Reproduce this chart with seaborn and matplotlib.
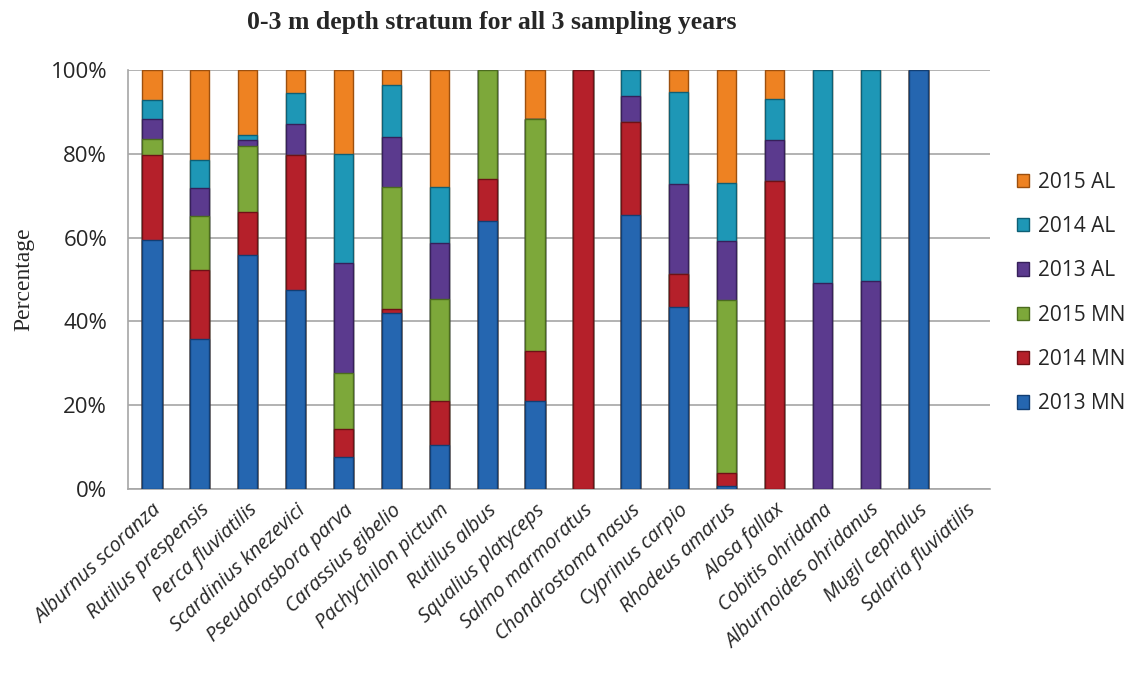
import numpy as np
import pandas as pd
import matplotlib
matplotlib.use("Agg")
import matplotlib.pyplot as plt
import seaborn as sns
from matplotlib.patches import Patch

species = ["Alburnus scoranza", "Rutilus prespensis", "Perca fluviatilis", "Scardinius knezevici",
           "Pseudorasbora parva", "Carassius gibelio", "Pachychilon pictum", "Rutilus albus",
           "Squalius platyceps", "Salmo marmoratus", "Chondrostoma nasus", "Cyprinus carpio",
           "Rhodeus amarus", "Alosa fallax", "Cobitis ohridana", "Alburnoides ohridanus",
           "Mugil cephalus", "Salaria fluviatilis"]

mn2013 = [59.4, 35.7, 55.8, 47.6, 7.7, 42.1, 10.5, 64.0, 20.9, 0, 65.3, 43.4, 0.8, 0, 0, 0, 100, 0]
mn2014 = [20.4, 16.5, 10.2, 32.0, 6.6, 0.8, 10.6, 9.9, 12.0, 100, 22.3, 8.0, 2.9, 73.5, 0, 0, 0, 0]
mn2015 = [3.7, 12.9, 15.9, 0, 13.4, 29.1, 24.2, 26.1, 55.5, 0, 0, 0, 41.5, 0, 0, 0, 0, 0]
al2013 = [4.7, 6.8, 1.4, 7.4, 26.2, 12.1, 13.4, 0, 0, 0, 6.2, 21.3, 13.9, 9.8, 49.2, 49.6, 0, 0]
al2014 = [4.6, 6.6, 1.2, 7.6, 26.1, 12.3, 13.4, 0, 0, 0, 6.2, 22.0, 14.0, 9.7, 50.8, 50.4, 0, 0]
al2015 = [7.2, 21.5, 15.5, 5.4, 20.0, 3.6, 27.9, 0, 11.6, 0, 0, 5.3, 26.9, 7.0, 0, 0, 0, 0]

series_names = ["2013 MN", "2014 MN", "2015 MN", "2013 AL", "2014 AL", "2015 AL"]
series_vals = [mn2013, mn2014, mn2015, al2013, al2014, al2015]
colors = ["#2566B0", "#B5202A", "#7DA83A", "#5B3A8E", "#1E97B6", "#EE8222"]
edges = ["#123E73", "#6E1116", "#4B6B1E", "#36205A", "#0E5F75", "#9C4F0E"]

df = pd.DataFrame({"species": species})
cum = np.zeros(len(species))
for name, vals in zip(series_names, series_vals):
    cum = cum + np.array(vals, dtype=float)
    col = cum.copy()
    col[col == 0] = np.nan
    df[name] = col

sns.set_theme(style="white")
fig = plt.figure(figsize=(11.3, 6.75), dpi=100)
ax = fig.add_axes([128/1130, 1 - 489/675, 862/1130, 419/675])

for i in range(len(series_names) - 1, -1, -1):
    name = series_names[i]
    sns.barplot(data=df, x="species", y=name, order=species, color=colors[i], ax=ax, width=0.4,
                saturation=1, edgecolor=edges[i], linewidth=1.0, zorder=3)

ax.set_ylim(0, 100)
ax.set_xlim(-0.5, len(species) - 0.5)
ax.set_yticks([0, 20, 40, 60, 80, 100])
ax.set_yticklabels(["0%", "20%", "40%", "60%", "80%", "100%"], fontsize=16,
                   fontfamily="Open Sans")
ax.yaxis.grid(True, color="#A6A6A6", linewidth=1.2, zorder=0)
ax.set_axisbelow(True)
for s in ["top", "right"]:
    ax.spines[s].set_visible(False)
for s in ["left", "bottom"]:
    ax.spines[s].set_color("#A6A6A6")
    ax.spines[s].set_linewidth(1.2)

ax.set_xticks(np.arange(len(species)))
ax.set_xticklabels(species, rotation=43, ha="right", rotation_mode="anchor",
                   fontsize=14.5, fontstyle="italic", fontfamily="Open Sans")
ax.tick_params(axis="x", length=0, pad=8)
ax.set_xticks(np.arange(len(species) + 1) - 0.5, minor=True)
ax.tick_params(axis="x", which="minor", length=7, color="#A6A6A6", width=1.2, direction="out")
ax.tick_params(axis="y", length=7, color="#A6A6A6", width=1.2, direction="out", pad=8)
ax.set_xlabel("")
ax.set_ylabel("Percentage", fontsize=17, fontfamily="Liberation Serif", labelpad=12)

fig.text(492/1130, 1 - 22/675, "0-3 m depth stratum for all 3 sampling years",
         ha="center", va="center", fontsize=18.5, fontweight="bold", fontfamily="Liberation Serif")

handles = [Patch(facecolor=colors[i], edgecolor=edges[i], label=series_names[i])
           for i in range(len(series_names) - 1, -1, -1)]
leg = fig.legend(handles=handles, loc="center left", bbox_to_anchor=(998/1130, 1 - 293/675),
                 frameon=False, labelspacing=1.12, handlelength=0.6,
                 handleheight=0.6, handletextpad=0.4, prop={"family": "Open Sans", "size": 15})

fig.savefig("out.png", dpi=100)
